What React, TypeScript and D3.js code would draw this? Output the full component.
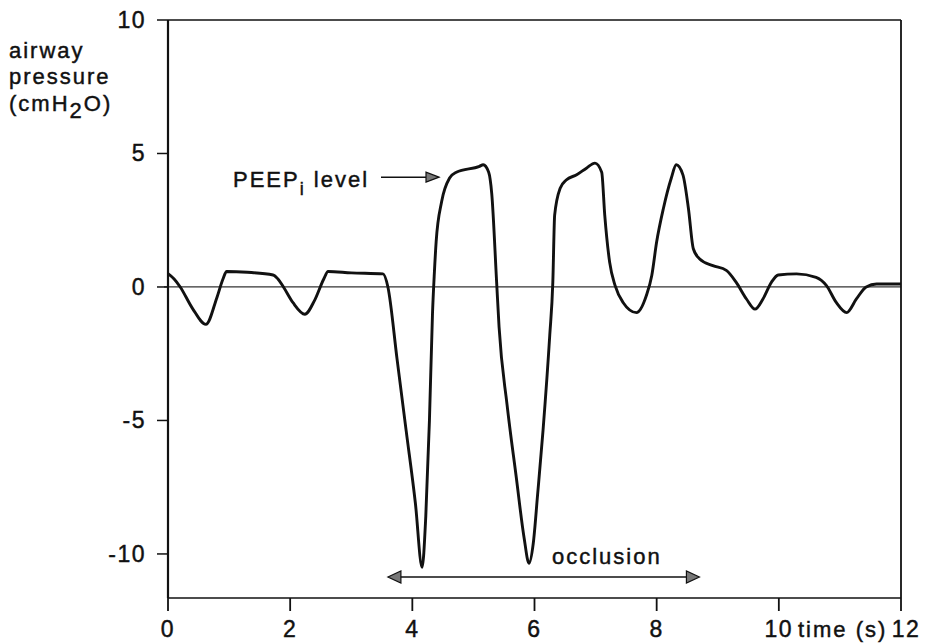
import React from "react";
import * as d3 from "d3";

const timeS = [0, 0.1, 0.2, 0.4, 0.62, 0.8, 0.9, 0.96, 1.3, 1.72, 1.8, 1.89, 2.05, 2.24, 2.4, 2.55, 2.62, 3.0, 3.52, 3.6, 3.75, 3.9, 4.05, 4.16, 4.22, 4.28, 4.33, 4.36, 4.39, 4.48, 4.61, 4.72, 5.1, 5.16, 5.25, 5.3, 5.38, 5.42, 5.55, 5.7, 5.83, 5.91, 5.98, 6.05, 6.14, 6.25, 6.3, 6.33, 6.42, 6.52, 6.69, 6.85, 6.99, 7.1, 7.15, 7.23, 7.32, 7.45, 7.67, 7.83, 7.92, 8.0, 8.11, 8.24, 8.32, 8.43, 8.52, 8.6, 8.7, 8.92, 9.14, 9.3, 9.47, 9.61, 9.74, 9.88, 9.99, 10.29, 10.61, 10.78, 10.94, 11.11, 11.27, 11.43, 11.6, 12];
const pressure = [0.5, 0.3, 0.0, -0.8, -1.4, -0.4, 0.3, 0.58, 0.55, 0.45, 0.3, 0.0, -0.6, -1.02, -0.5, 0.3, 0.58, 0.53, 0.49, 0.0, -2.7, -5.4, -8.1, -10.5, -8.6, -5.0, -1.0, 0.5, 1.7, 3.2, 4.08, 4.3, 4.52, 4.58, 4.3, 3.5, 0.18, -1.5, -4.4, -7.1, -9.4, -10.35, -9.6, -7.8, -5.36, -1.8, 0.18, 2.69, 3.7, 4.01, 4.2, 4.45, 4.64, 4.3, 2.69, 0.93, 0.05, -0.58, -0.96, -0.33, 0.43, 1.69, 2.94, 4.08, 4.58, 4.2, 2.94, 1.43, 1.06, 0.8, 0.62, 0.18, -0.45, -0.83, -0.45, 0.18, 0.45, 0.49, 0.36, 0.05, -0.58, -0.96, -0.45, 0.0, 0.11, 0.11];

const xTicks = [0, 2, 4, 6, 8, 10, 12];
const yTicks = [10, 5, 0, -5, -10];
const occlusionRange = [3.6, 8.7];
const peepLevel = 4.3;

const FONT = "'Liberation Sans', Arial, Helvetica, sans-serif";

export default function App() {
  const W = 931, H = 644;
  const x = d3.scaleLinear().domain([0, 12]).range([168, 901]);
  const y = d3.scaleLinear().domain([-11.65, 10]).range([598, 20]);
  const pts = timeS.map((t, i) => [t, pressure[i]] as [number, number]);
  const line = d3.line<[number, number]>().x(d => x(d[0])).y(d => y(d[1])).curve(d3.curveMonotoneX);

  const x0 = x(0), x1 = x(12), yTop = y(10), yBot = y(-11.65);
  const occY = 577;
  const oa = x(occlusionRange[0]), ob = x(occlusionRange[1]);
  const peepY = y(peepLevel) + 5;
  const txt = { fontFamily: FONT, fontSize: 22, letterSpacing: 2, fill: "#111", stroke: "#111", strokeWidth: 0.45 } as const;
  const num = { ...txt, fontSize: 23, letterSpacing: 1.5 } as const;

  return (
    <svg width={W} height={H} style={{ position: "absolute", left: 0, top: 0, background: "#fff" }}>
      {/* zero line */}
      <line x1={x0 - 4} x2={x1} y1={y(0)} y2={y(0)} stroke="#333" strokeWidth={1.2} />
      {/* frame */}
      <line x1={x0} x2={x1} y1={yTop} y2={yTop} stroke="#111" strokeWidth={1.6} />
      <line x1={x1} x2={x1} y1={yTop} y2={yBot} stroke="#111" strokeWidth={1.8} />
      <line x1={x0} x2={x1} y1={yBot} y2={yBot} stroke="#111" strokeWidth={1.6} />
      <line x1={x0} x2={x0} y1={yTop} y2={yBot} stroke="#111" strokeWidth={2.2} />
      {/* y ticks */}
      {yTicks.map(v => (
        <g key={"y" + v}>
          <line x1={x0 - 11} x2={x0} y1={y(v)} y2={y(v)} stroke="#111" strokeWidth={1.5} />
          <text x={x0 - 22} y={y(v) + 8} textAnchor="end" {...num}>{v}</text>
        </g>
      ))}
      {/* x ticks */}
      {xTicks.map(v => (
        <g key={"x" + v}>
          <line x1={x(v)} x2={x(v)} y1={yBot} y2={yBot + 13} stroke="#111" strokeWidth={1.8} />
          <text x={x(v) + (v === 12 ? 5 : 0)} y={637} textAnchor="middle" {...num}>{v}</text>
        </g>
      ))}
      <text x={798} y={637} {...txt}>time (s)</text>
      {/* y label */}
      <text x={9} y={58} {...txt}>airway</text>
      <text x={9} y={84} {...txt}>pressure</text>
      <text x={9} y={111} {...txt}>(cmH<tspan dy={7}>2</tspan><tspan dy={-7}>O)</tspan></text>
      {/* curve */}
      <path d={line(pts) || ""} fill="none" stroke="#111" strokeWidth={2.9} strokeLinejoin="round" />
      {/* PEEPi annotation */}
      <text x={233} y={187} {...txt}>PEEP<tspan dy={8} fontSize={18}>i</tspan><tspan dy={-8}> level</tspan></text>
      <line x1={381} x2={428} y1={peepY} y2={peepY} stroke="#111" strokeWidth={1.5} />
      <polygon points={`${439},${peepY} ${426},${peepY - 5} ${426},${peepY + 5}`} fill="#777" stroke="#111" strokeWidth={1.2} />
      {/* occlusion */}
      <text x={552} y={564} {...txt}>occlusion</text>
      <line x1={oa + 10} x2={ob - 10} y1={occY} y2={occY} stroke="#111" strokeWidth={1.5} />
      <polygon points={`${oa},${occY} ${oa + 13},${occY - 6} ${oa + 13},${occY + 6}`} fill="#777" stroke="#111" strokeWidth={1.2} />
      <polygon points={`${ob},${occY} ${ob - 13},${occY - 6} ${ob - 13},${occY + 6}`} fill="#777" stroke="#111" strokeWidth={1.2} />
    </svg>
  );
}
